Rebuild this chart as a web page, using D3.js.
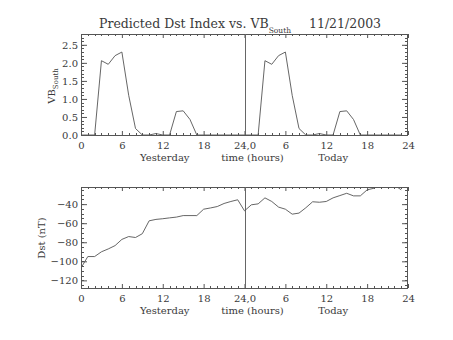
<!DOCTYPE html>
<html>
<head>
<meta charset="utf-8">
<script src="https://cdn.jsdelivr.net/npm/d3@7"></script>
<style>
  html, body { margin: 0; padding: 0; background: #fff; }
  svg { display: block; }
  text { font-family: "DejaVu Serif", "Liberation Serif", serif; fill: #3a3a3a; }
</style>
</head>
<body>
<svg id="chart" width="453" height="340"></svg>
<script>
// Hourly values: yesterday 0..23 followed by today 0..23
const hoursYesterday = d3.range(0, 24);
const hoursToday = d3.range(24, 48);

const vbYesterday = [0, 0, 0, 2.06, 1.96, 2.2, 2.3, 1.1, 0.18, 0, 0, 0.04, 0, 0, 0.65, 0.67, 0.43, 0, 0, 0, 0, 0, 0, 0];
const vbToday     = [0, 0, 0, 2.06, 1.96, 2.2, 2.3, 1.1, 0.18, 0, 0, 0.04, 0, 0, 0.65, 0.67, 0.43, 0, 0, 0, 0, 0, 0, 0];

const dstYesterday = [-107, -95, -95, -90, -87, -83.5, -77, -74, -75, -71, -57.5, -56,
                      -55.3, -54.4, -53.6, -52, -52, -52, -45.3, -44, -42.5, -39.3, -37.2, -35.4];
const dstToday     = [-47, -40.7, -39.7, -33.4, -37.2, -43.1, -45.3, -50.5, -49.4, -43.8, -37.5, -38,
                      -37.2, -33.4, -31, -28.6, -31.3, -31.3, -25, -23.3, -20, -19, -20, -25];

const xTickValues = [0, 6, 12, 18, 24, 30, 36, 42, 48];
const xTickLabels = ["0", "6", "12", "18", "24,0", "6", "12", "18", "24"];
const vbTicks = [0, 0.5, 1.0, 1.5, 2.0, 2.5];
const dstTicks = [-120, -100, -80, -60, -40];

const hours = hoursYesterday.concat(hoursToday);
const vb = vbYesterday.concat(vbToday);
const dst = dstYesterday.concat(dstToday);

const svg = d3.select("#chart");
const left = 81, right = 408;
const x = d3.scaleLinear().domain([0, 48]).range([left, right]);

const stroke = "#555";

function panel(cfg) {
  const y = d3.scaleLinear().domain(cfg.domain).range([cfg.bottom, cfg.top]);
  const g = svg.append("g");
  const clipId = "clip-" + cfg.id;
  svg.append("clipPath").attr("id", clipId)
    .append("rect").attr("x", left).attr("y", cfg.top)
    .attr("width", right - left).attr("height", cfg.bottom - cfg.top);

  // minor ticks
  const xMinor = d3.range(0, 49).filter(h => h % 6 !== 0);
  const yMinor = d3.range(cfg.domain[0], cfg.domain[1] + 1e-9, cfg.minorStep)
    .map(v => Math.round(v / cfg.minorStep) * cfg.minorStep)
    .filter(v => v >= cfg.domain[0] && v <= cfg.domain[1]);
  const minor = g.append("g").attr("stroke", stroke).attr("stroke-width", 1);
  xMinor.forEach(h => {
    const px = Math.round(x(h)) + 0.5;
    minor.append("line").attr("x1", px).attr("x2", px).attr("y1", cfg.bottom).attr("y2", cfg.bottom - 2);
    minor.append("line").attr("x1", px).attr("x2", px).attr("y1", cfg.top).attr("y2", cfg.top + 2);
  });
  yMinor.forEach(v => {
    const py = Math.round(y(v)) + 0.5;
    minor.append("line").attr("x1", left).attr("x2", left + 3).attr("y1", py).attr("y2", py);
    minor.append("line").attr("x1", right).attr("x2", right - 3).attr("y1", py).attr("y2", py);
  });

  // major axes
  const axB = d3.axisBottom(x).tickValues(xTickValues).tickSize(-4).tickSizeOuter(0)
    .tickPadding(7).tickFormat((d, i) => xTickLabels[i]);
  const axT = d3.axisTop(x).tickValues(xTickValues).tickSize(-4).tickSizeOuter(0).tickFormat("");
  const axL = d3.axisLeft(y).tickValues(cfg.ticks).tickSize(-6).tickSizeOuter(0)
    .tickPadding(3).tickFormat(cfg.format);
  const axR = d3.axisRight(y).tickValues(cfg.ticks).tickSize(-6).tickSizeOuter(0).tickFormat("");

  [[axB, `translate(0,${cfg.bottom})`], [axT, `translate(0,${cfg.top})`],
   [axL, `translate(${left},0)`], [axR, `translate(${right},0)`]].forEach(([ax, tr]) => {
    const a = g.append("g").attr("transform", tr).call(ax);
    a.select(".domain").remove();
    a.selectAll("line").attr("stroke", stroke);
    a.selectAll("text").attr("font-size", 10)
      .attr("font-family", "DejaVu Serif, serif").attr("fill", "#3a3a3a");
  });

  // frame
  g.append("rect").attr("x", left + 0.5).attr("y", cfg.top + 0.5)
    .attr("width", right - left - 1).attr("height", cfg.bottom - cfg.top)
    .attr("fill", "none").attr("stroke", stroke).attr("stroke-width", 1);

  // day separator
  const sx = Math.round(x(24)) + 0.5;
  g.append("line").attr("x1", sx).attr("x2", sx).attr("y1", cfg.top).attr("y2", cfg.bottom)
    .attr("stroke", "#666").attr("stroke-width", 1);

  // data line
  const line = d3.line().x((d, i) => x(hours[i])).y(d => y(d));
  g.append("path").datum(cfg.values).attr("d", line)
    .attr("clip-path", `url(#${clipId})`)
    .attr("fill", "none").attr("stroke", stroke).attr("stroke-width", 0.9);

  // x titles
  const ty = cfg.bottom + 25.5;
  g.append("text").attr("x", x(12) + 2).attr("y", ty).attr("text-anchor", "middle")
    .attr("font-size", 10).text("Yesterday");
  g.append("text").attr("x", x(24) + 8).attr("y", ty).attr("text-anchor", "middle")
    .attr("font-size", 10).text("time (hours)");
  g.append("text").attr("x", x(36) + 7).attr("y", ty).attr("text-anchor", "middle")
    .attr("font-size", 10).text("Today");
  return y;
}

panel({ id: "vb", top: 34, bottom: 135, domain: [0, 2.8], ticks: vbTicks, minorStep: 0.1,
        format: d3.format(".1f"), values: vb });
panel({ id: "dst", top: 187, bottom: 288, domain: [-128, -22], ticks: dstTicks, minorStep: 5,
        format: d => "\u2212" + Math.abs(d), values: dst });

// y titles
const vbLabel = svg.append("text").attr("transform", "translate(55,86) rotate(-90)")
  .attr("text-anchor", "middle").attr("font-size", 10);
vbLabel.append("tspan").text("VB");
vbLabel.append("tspan").attr("font-size", 7).attr("dy", 3).text("South");

svg.append("text").attr("transform", "translate(45,238) rotate(-90)")
  .attr("text-anchor", "middle").attr("font-size", 10).text("Dst (nT)");

// title
const title = svg.append("text").attr("x", 99).attr("y", 28).attr("font-size", 12.5);
title.append("tspan").text("Predicted Dst Index vs. VB");
title.append("tspan").attr("font-size", 7.5).attr("dy", 5).text("South");
svg.append("text").attr("x", 309).attr("y", 28).attr("font-size", 12.5).text("11/21/2003");
</script>
</body>
</html>
